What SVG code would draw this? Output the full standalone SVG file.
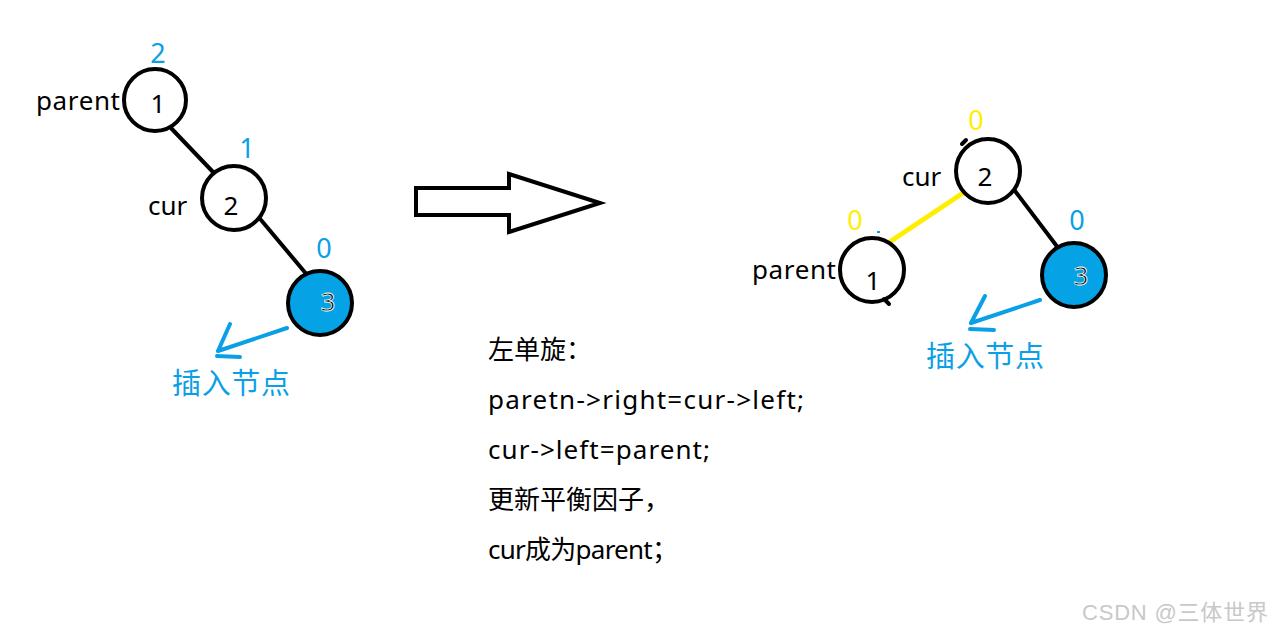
<svg xmlns="http://www.w3.org/2000/svg" width="1274" height="634" viewBox="0 0 1274 634">
<style>
.node{fill:#fff;stroke:#000;stroke-width:4}
.ins{fill:#05a2e6;stroke:#000;stroke-width:4}
.edge{stroke:#000;stroke-width:4;fill:none;stroke-linecap:round}
.t{font-family:"Noto Sans","Noto Sans CJK SC",sans-serif;font-size:26px;fill:#000}
.b{font-family:"Noto Sans","Noto Sans CJK SC",sans-serif;font-size:27px;fill:#0aa0e6}
.y{font-family:"Noto Sans","Noto Sans CJK SC",sans-serif;font-size:27px;fill:#ffee00}
.lbl{font-family:"Noto Sans","Noto Sans CJK SC",sans-serif;font-size:29px;fill:#0aa0e6}
.blue{stroke:#0aa0e6;stroke-width:4;fill:none;stroke-linecap:round}
</style>
<rect width="1274" height="634" fill="#fff"/>
<g id="connectors">
<line class="edge" x1="170" y1="127" x2="213" y2="172"/>
<line class="edge" x1="256" y1="214" x2="308" y2="276"/>
<line x1="963" y1="193" x2="888" y2="243" stroke="#ffee00" stroke-width="5" stroke-linecap="round"/>
<line class="edge" x1="1012" y1="187" x2="1062" y2="253"/>
</g>
<g id="left-node1">
<circle class="node" cx="155" cy="100" r="31"/>
<text class="t" x="158" y="113" text-anchor="middle" font-size="27">1</text>
<text class="t" x="36" y="110" textLength="84">parent</text>
<text class="b" x="158" y="63" text-anchor="middle">2</text>
</g>
<g id="left-node2">
<circle class="node" cx="234" cy="198" r="32"/>
<text class="t" x="231" y="215" text-anchor="middle" font-size="27">2</text>
<text class="t" x="148" y="215">cur</text>
<text class="b" x="247" y="158" text-anchor="middle">1</text>
</g>
<g id="left-node3">
<circle class="ins" cx="320" cy="303" r="32"/>
<text class="t" x="328" y="311" text-anchor="middle" font-size="27" stroke="#fff" stroke-width="0.8">3</text>
<text class="b" x="324" y="258" text-anchor="middle">0</text>
</g>
<g id="left-insert">
<path class="blue" d="M287 328 L218 351 M230 324 L218 351 M217 356 L240 357"/>
<text class="lbl" x="172" y="394" textLength="118">插入节点</text>
</g>
<g id="big-arrow">
<path d="M416 188 L509 188 L509 174 L600 203 L509 232 L509 215 L416 215 Z" fill="#fff" stroke="#000" stroke-width="4" stroke-linejoin="miter"/>
</g>
<g id="right-node2">
<circle class="node" cx="988" cy="171" r="32"/>
<path class="edge" d="M962 144 L966 140" stroke-width="3"/>
<text class="t" x="985" y="186" text-anchor="middle" font-size="27">2</text>
<text class="t" x="902" y="186">cur</text>
<text class="y" x="976" y="130" text-anchor="middle">0</text>
</g>
<g id="right-node1">
<circle class="node" cx="872" cy="270" r="32"/>
<path class="edge" d="M884 299 L889 304" stroke-width="3"/>
<path d="M877 232 L880 232" stroke="#0aa0e6" stroke-width="2"/>
<text class="t" x="873" y="290" text-anchor="middle" font-size="27">1</text>
<text class="t" x="752" y="279" textLength="84">parent</text>
<text class="y" x="855" y="230" text-anchor="middle">0</text>
</g>
<g id="right-node3">
<circle class="ins" cx="1074" cy="275" r="32"/>
<text class="t" x="1081" y="285" text-anchor="middle" font-size="27" stroke="#fff" stroke-width="0.8">3</text>
<text class="b" x="1077" y="230" text-anchor="middle">0</text>
</g>
<g id="right-insert">
<path class="blue" d="M1040 300 L971 323 M985 296 L971 323 M970 329 L994 330"/>
<text class="lbl" x="926" y="367" textLength="118">插入节点</text>
</g>
<g id="description">
<text class="t" x="488" y="359">左单旋：</text>
<text class="t" x="488" y="409" textLength="316">paretn-&gt;right=cur-&gt;left;</text>
<text class="t" x="488" y="459" textLength="222">cur-&gt;left=parent;</text>
<text class="t" x="488" y="509" textLength="182">更新平衡因子，</text>
<text class="t" x="488" y="559" textLength="190">cur成为parent；</text>
</g>
<text x="1082" y="620" textLength="186" font-family="'Liberation Sans','Noto Sans CJK SC',sans-serif" font-size="22" fill="#c8c8c8">CSDN @三体世界</text>
</svg>
